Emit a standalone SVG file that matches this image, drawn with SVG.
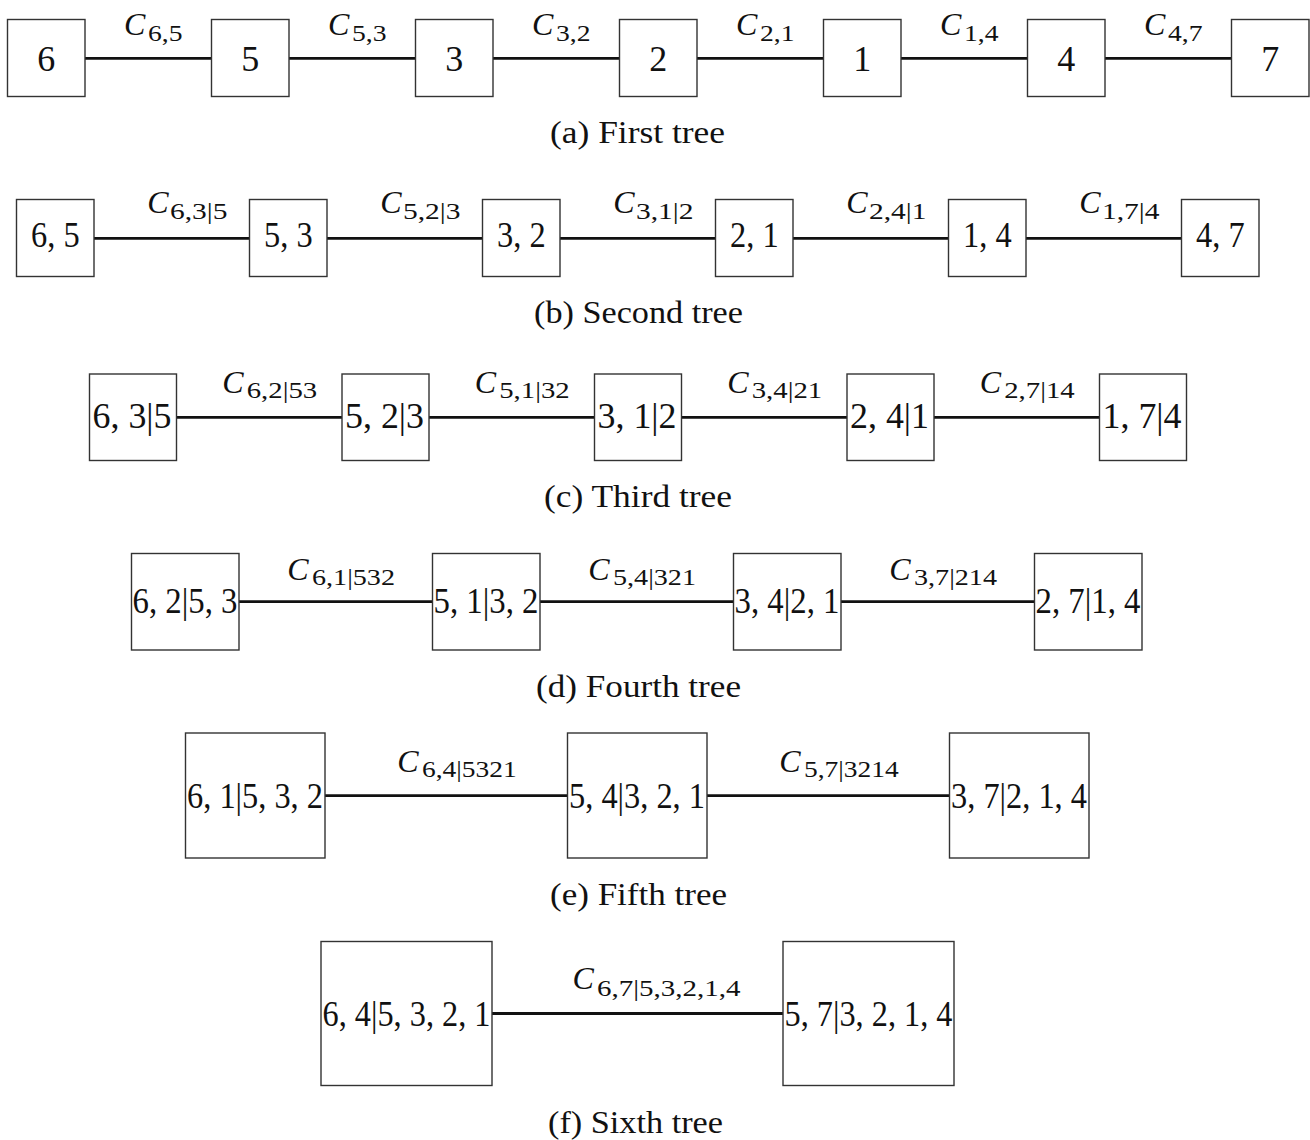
<svg xmlns="http://www.w3.org/2000/svg" width="1310" height="1140" viewBox="0 0 1310 1140">
<style>
rect.n{fill:#fff;stroke:#333;stroke-width:1.4}
.t{font-family:"Liberation Serif","Times New Roman",serif;font-size:36px;fill:#111;text-anchor:middle}
.C{font-family:"Liberation Serif","Times New Roman",serif;font-style:italic;font-size:32px;fill:#111}
.s{font-family:"Liberation Serif","Times New Roman",serif;font-size:24px;fill:#111}
.cap{font-family:"Liberation Serif","Times New Roman",serif;font-size:31px;fill:#111}
#edges line{stroke:#111;stroke-width:2.8}
</style>
<rect width="1310" height="1140" fill="#fff"/>
<g id="edges">
<line x1="85" y1="58.3" x2="211.5" y2="58.3"/><line x1="289" y1="58.3" x2="415.5" y2="58.3"/><line x1="493" y1="58.3" x2="619.5" y2="58.3"/><line x1="697" y1="58.3" x2="823.5" y2="58.3"/><line x1="901" y1="58.3" x2="1027.5" y2="58.3"/><line x1="1105" y1="58.3" x2="1231.5" y2="58.3"/>
<line x1="94" y1="238.3" x2="249.5" y2="238.3"/><line x1="327" y1="238.3" x2="482.5" y2="238.3"/><line x1="560" y1="238.3" x2="715.5" y2="238.3"/><line x1="793" y1="238.3" x2="948.5" y2="238.3"/><line x1="1026" y1="238.3" x2="1181.5" y2="238.3"/>
<line x1="176.5" y1="417.3" x2="342" y2="417.3"/><line x1="429" y1="417.3" x2="594.5" y2="417.3"/><line x1="681.5" y1="417.3" x2="847" y2="417.3"/><line x1="934" y1="417.3" x2="1099.5" y2="417.3"/>
<line x1="239" y1="601.7" x2="432.5" y2="601.7"/><line x1="540" y1="601.7" x2="733.5" y2="601.7"/><line x1="841" y1="601.7" x2="1034.5" y2="601.7"/>
<line x1="325" y1="795.7" x2="567.5" y2="795.7"/><line x1="707" y1="795.7" x2="949.5" y2="795.7"/>
<line x1="492" y1="1013.5" x2="783" y2="1013.5"/>
</g>
<g id="edge-labels">
<text class="C" x="124" y="35">C</text><text class="s" x="148" y="41" textLength="34.5" lengthAdjust="spacingAndGlyphs">6,5</text>
<text class="C" x="328" y="35">C</text><text class="s" x="352" y="41" textLength="34.5" lengthAdjust="spacingAndGlyphs">5,3</text>
<text class="C" x="532" y="35">C</text><text class="s" x="556" y="41" textLength="34.5" lengthAdjust="spacingAndGlyphs">3,2</text>
<text class="C" x="736" y="35">C</text><text class="s" x="760" y="41" textLength="34.5" lengthAdjust="spacingAndGlyphs">2,1</text>
<text class="C" x="940" y="35">C</text><text class="s" x="964" y="41" textLength="34.5" lengthAdjust="spacingAndGlyphs">1,4</text>
<text class="C" x="1144" y="35">C</text><text class="s" x="1168" y="41" textLength="34.5" lengthAdjust="spacingAndGlyphs">4,7</text>

<text class="C" x="147.3" y="213.3">C</text><text class="s" x="170" y="219" textLength="57.5" lengthAdjust="spacingAndGlyphs">6,3|5</text>
<text class="C" x="380.3" y="213.3">C</text><text class="s" x="403" y="219" textLength="57.5" lengthAdjust="spacingAndGlyphs">5,2|3</text>
<text class="C" x="613.3" y="213.3">C</text><text class="s" x="636" y="219" textLength="57.5" lengthAdjust="spacingAndGlyphs">3,1|2</text>
<text class="C" x="846.3" y="213.3">C</text><text class="s" x="869" y="219" textLength="57.5" lengthAdjust="spacingAndGlyphs">2,4|1</text>
<text class="C" x="1079.3" y="213.3">C</text><text class="s" x="1102" y="219" textLength="57.5" lengthAdjust="spacingAndGlyphs">1,7|4</text>

<text class="C" x="222.3" y="393.3">C</text><text class="s" x="246.7" y="398.3" textLength="70.5" lengthAdjust="spacingAndGlyphs">6,2|53</text>
<text class="C" x="474.8" y="393.3">C</text><text class="s" x="499.2" y="398.3" textLength="70.5" lengthAdjust="spacingAndGlyphs">5,1|32</text>
<text class="C" x="727.3" y="393.3">C</text><text class="s" x="751.7" y="398.3" textLength="70.5" lengthAdjust="spacingAndGlyphs">3,4|21</text>
<text class="C" x="979.8" y="393.3">C</text><text class="s" x="1004.2" y="398.3" textLength="70.5" lengthAdjust="spacingAndGlyphs">2,7|14</text>

<text class="C" x="287.3" y="580">C</text><text class="s" x="312" y="584.5" textLength="83" lengthAdjust="spacingAndGlyphs">6,1|532</text>
<text class="C" x="588.3" y="580">C</text><text class="s" x="613" y="584.5" textLength="83" lengthAdjust="spacingAndGlyphs">5,4|321</text>
<text class="C" x="889.3" y="580">C</text><text class="s" x="914" y="584.5" textLength="83" lengthAdjust="spacingAndGlyphs">3,7|214</text>

<text class="C" x="397.3" y="771.7">C</text><text class="s" x="422" y="776.7" textLength="94.7" lengthAdjust="spacingAndGlyphs">6,4|5321</text>
<text class="C" x="779.3" y="771.7">C</text><text class="s" x="804" y="776.7" textLength="94.7" lengthAdjust="spacingAndGlyphs">5,7|3214</text>

<text class="C" x="572.5" y="989">C</text><text class="s" x="597" y="995.5" textLength="143.5" lengthAdjust="spacingAndGlyphs">6,7|5,3,2,1,4</text>
</g>
<g id="tree-a">
<g id="a6"><rect class="n" x="7.5" y="19.5" width="77.5" height="77"/><text class="t" x="46.3" y="70.5">6</text></g>
<g id="a5"><rect class="n" x="211.5" y="19.5" width="77.5" height="77"/><text class="t" x="250.3" y="70.5">5</text></g>
<g id="a3"><rect class="n" x="415.5" y="19.5" width="77.5" height="77"/><text class="t" x="454.3" y="70.5">3</text></g>
<g id="a2"><rect class="n" x="619.5" y="19.5" width="77.5" height="77"/><text class="t" x="658.3" y="70.5">2</text></g>
<g id="a1"><rect class="n" x="823.5" y="19.5" width="77.5" height="77"/><text class="t" x="862.3" y="70.5">1</text></g>
<g id="a4"><rect class="n" x="1027.5" y="19.5" width="77.5" height="77"/><text class="t" x="1066.3" y="70.5">4</text></g>
<g id="a7"><rect class="n" x="1231.5" y="19.5" width="77.5" height="77"/><text class="t" x="1270.3" y="70.5">7</text></g>
</g>
<g id="tree-b">
<g id="b65"><rect class="n" x="16.5" y="199.5" width="77.5" height="77"/><text class="t" x="55.3" y="247" textLength="48.6" lengthAdjust="spacingAndGlyphs">6, 5</text></g>
<g id="b53"><rect class="n" x="249.5" y="199.5" width="77.5" height="77"/><text class="t" x="288.3" y="247" textLength="48.6" lengthAdjust="spacingAndGlyphs">5, 3</text></g>
<g id="b32"><rect class="n" x="482.5" y="199.5" width="77.5" height="77"/><text class="t" x="521.3" y="247" textLength="48.6" lengthAdjust="spacingAndGlyphs">3, 2</text></g>
<g id="b21"><rect class="n" x="715.5" y="199.5" width="77.5" height="77"/><text class="t" x="754.3" y="247" textLength="48.6" lengthAdjust="spacingAndGlyphs">2, 1</text></g>
<g id="b14"><rect class="n" x="948.5" y="199.5" width="77.5" height="77"/><text class="t" x="987.3" y="247" textLength="48.6" lengthAdjust="spacingAndGlyphs">1, 4</text></g>
<g id="b47"><rect class="n" x="1181.5" y="199.5" width="77.5" height="77"/><text class="t" x="1220.3" y="247" textLength="48.6" lengthAdjust="spacingAndGlyphs">4, 7</text></g>
</g>
<g id="tree-c">
<g id="c1"><rect class="n" x="89.5" y="374" width="87" height="86.5"/><text class="t" x="132" y="428" textLength="79" lengthAdjust="spacingAndGlyphs">6, 3|5</text></g>
<g id="c2"><rect class="n" x="342" y="374" width="87" height="86.5"/><text class="t" x="384.5" y="428" textLength="79" lengthAdjust="spacingAndGlyphs">5, 2|3</text></g>
<g id="c3"><rect class="n" x="594.5" y="374" width="87" height="86.5"/><text class="t" x="637" y="428" textLength="79" lengthAdjust="spacingAndGlyphs">3, 1|2</text></g>
<g id="c4"><rect class="n" x="847" y="374" width="87" height="86.5"/><text class="t" x="889.5" y="428" textLength="79" lengthAdjust="spacingAndGlyphs">2, 4|1</text></g>
<g id="c5"><rect class="n" x="1099.5" y="374" width="87" height="86.5"/><text class="t" x="1142" y="428" textLength="79" lengthAdjust="spacingAndGlyphs">1, 7|4</text></g>
</g>
<g id="tree-d">
<g id="d1"><rect class="n" x="131.5" y="553.5" width="107.5" height="96.5"/><text class="t" x="185" y="612.5" textLength="105" lengthAdjust="spacingAndGlyphs">6, 2|5, 3</text></g>
<g id="d2"><rect class="n" x="432.5" y="553.5" width="107.5" height="96.5"/><text class="t" x="486" y="612.5" textLength="105" lengthAdjust="spacingAndGlyphs">5, 1|3, 2</text></g>
<g id="d3"><rect class="n" x="733.5" y="553.5" width="107.5" height="96.5"/><text class="t" x="787" y="612.5" textLength="105" lengthAdjust="spacingAndGlyphs">3, 4|2, 1</text></g>
<g id="d4"><rect class="n" x="1034.5" y="553.5" width="107.5" height="96.5"/><text class="t" x="1088" y="612.5" textLength="105" lengthAdjust="spacingAndGlyphs">2, 7|1, 4</text></g>
</g>
<g id="tree-e">
<g id="e1"><rect class="n" x="185.5" y="733" width="139.5" height="125"/><text class="t" x="255" y="808" textLength="136" lengthAdjust="spacingAndGlyphs">6, 1|5, 3, 2</text></g>
<g id="e2"><rect class="n" x="567.5" y="733" width="139.5" height="125"/><text class="t" x="637" y="808" textLength="136" lengthAdjust="spacingAndGlyphs">5, 4|3, 2, 1</text></g>
<g id="e3"><rect class="n" x="949.5" y="733" width="139.5" height="125"/><text class="t" x="1019" y="808" textLength="136" lengthAdjust="spacingAndGlyphs">3, 7|2, 1, 4</text></g>
</g>
<g id="tree-f">
<g id="f1"><rect class="n" x="321" y="941.5" width="171" height="144"/><text class="t" x="406.5" y="1025.5" textLength="168" lengthAdjust="spacingAndGlyphs">6, 4|5, 3, 2, 1</text></g>
<g id="f2"><rect class="n" x="783" y="941.5" width="171" height="144"/><text class="t" x="868.5" y="1025.5" textLength="168" lengthAdjust="spacingAndGlyphs">5, 7|3, 2, 1, 4</text></g>
</g>
<g id="captions">
<text class="cap" x="550" y="143" textLength="175" lengthAdjust="spacingAndGlyphs">(a) First tree</text>
<text class="cap" x="534" y="323" textLength="209" lengthAdjust="spacingAndGlyphs">(b) Second tree</text>
<text class="cap" x="544" y="507" textLength="188" lengthAdjust="spacingAndGlyphs">(c) Third tree</text>
<text class="cap" x="536" y="697" textLength="205" lengthAdjust="spacingAndGlyphs">(d) Fourth tree</text>
<text class="cap" x="550" y="905" textLength="177" lengthAdjust="spacingAndGlyphs">(e) Fifth tree</text>
<text class="cap" x="548" y="1133" textLength="175" lengthAdjust="spacingAndGlyphs">(f) Sixth tree</text>
</g>
</svg>
